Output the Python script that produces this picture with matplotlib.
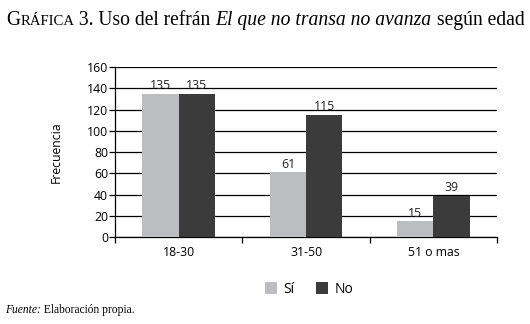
import numpy as np
import matplotlib.pyplot as plt

categorias = ['18-30', '31-50', '51 o mas']
si = [135, 61, 15]
no = [135, 115, 39]

sans = 'Open Sans'
serif = 'Liberation Serif'
fs = 8.8

fig = plt.figure(figsize=(5.3, 3.24), dpi=100)
ax = fig.add_axes([0.217, 0.268, 0.721, 0.525])

x = np.arange(len(categorias))
w = 0.285
b1 = ax.bar(x - w / 2, si, w, color='#bcbdc0', label='Sí', zorder=3)
b2 = ax.bar(x + w / 2, no, w, color='#3b3b3c', label='No', zorder=3)

for bars, vals in ((b1, si), (b2, no)):
    for r, v in zip(bars, vals):
        ax.text(r.get_x() + r.get_width() / 2, v + 1.5, str(v), ha='center', va='bottom',
                fontsize=fs, family=sans, color='#222222')

ax.set_xlim(-0.5, 2.5)
ax.set_ylim(0, 160)
ax.set_yticks(range(0, 161, 20))
ax.yaxis.grid(True, color='black', linewidth=0.9, zorder=0)
ax.set_axisbelow(True)
ax.set_xticks(x)
ax.set_xticklabels(categorias, family=sans, fontsize=fs)
ax.set_xticks([-0.5, 0.5, 1.5, 2.5], minor=True)
ax.tick_params(axis='x', which='major', length=0, pad=6)
ax.tick_params(axis='x', which='minor', length=4, width=0.9, direction='out')
ax.tick_params(axis='y', length=4, width=0.9, labelsize=fs, pad=1)
for t in ax.get_yticklabels():
    t.set_family(sans)
for s in ('top', 'right'):
    ax.spines[s].set_visible(False)
ax.spines['left'].set_linewidth(0.9)
ax.spines['bottom'].set_linewidth(0.9)
ax.set_ylabel('Frecuencia', family=sans, fontsize=fs, labelpad=17)

fig.legend(handles=[b1, b2], loc='center', bbox_to_anchor=(0.583, 0.107), ncol=2,
           frameon=False, prop={'family': sans, 'size': 10}, handlelength=0.9,
           handleheight=0.9, columnspacing=1.5, handletextpad=0.45)

# titulo con versalitas simuladas
yb = 0.922
big, small = 14.1, 10.6
t = fig.text(0.012, yb, 'G', family=serif, fontsize=big, va='baseline')
fig.canvas.draw()
r = fig.canvas.get_renderer()
bb = t.get_window_extent(r)
x0 = bb.x1 / fig.bbox.width
t2 = fig.text(x0, yb, 'RÁFICA', family=serif, fontsize=small, va='baseline')
bb = t2.get_window_extent(r)
x0 = bb.x1 / fig.bbox.width
t3 = fig.text(x0, yb, ' 3. Uso del refrán ', family=serif, fontsize=big, va='baseline')
bb = t3.get_window_extent(r)
x0 = bb.x1 / fig.bbox.width
t4 = fig.text(x0, yb, 'El que no transa no avanza', family=serif, style='italic',
              fontsize=big, va='baseline')
bb = t4.get_window_extent(r)
x0 = bb.x1 / fig.bbox.width
fig.text(x0, yb, ' según edad', family=serif, fontsize=big, va='baseline')

f = fig.text(0.01, 0.035, 'Fuente:', family=serif, style='italic', fontsize=8.3, va='baseline')
bb = f.get_window_extent(r)
fig.text(bb.x1 / fig.bbox.width, 0.035, ' Elaboración propia.', family=serif, fontsize=8.3,
         va='baseline')

fig.savefig('out.png', dpi=100)
